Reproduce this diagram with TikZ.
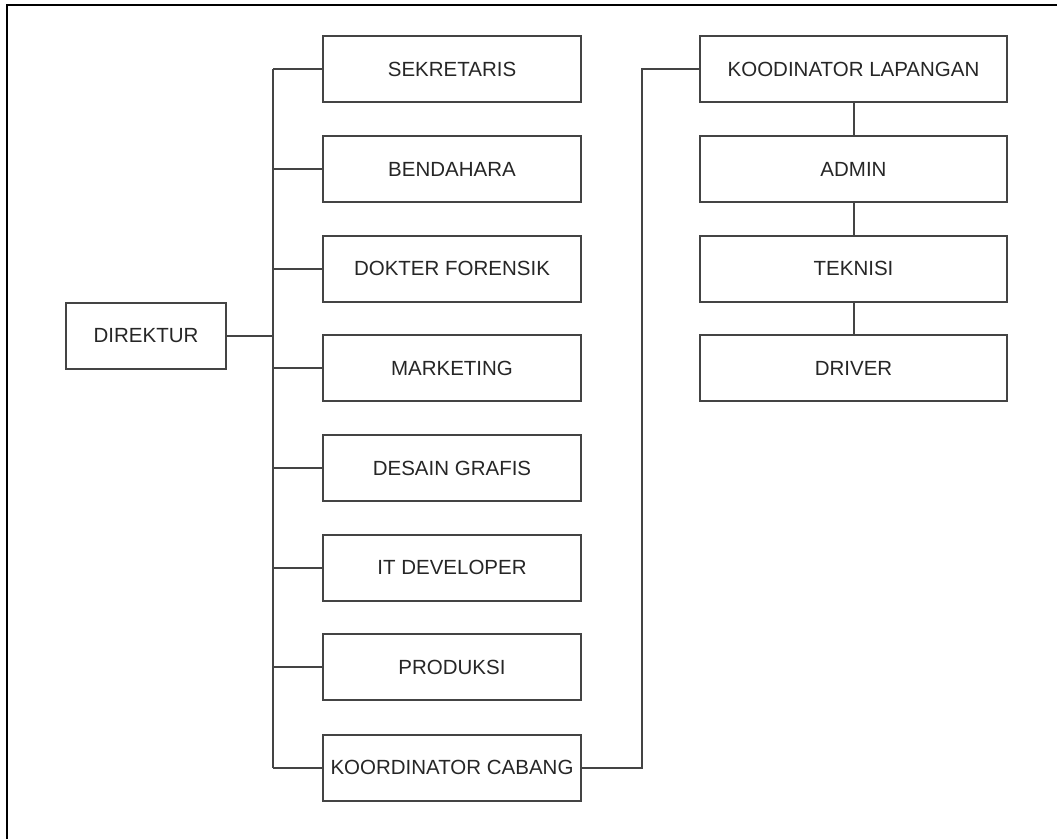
\documentclass[tikz,border=0pt]{standalone}
\usepackage{fontspec}
\setmainfont{Liberation Sans}
\definecolor{linecol}{HTML}{444444}
\definecolor{txtcol}{HTML}{262626}
\begin{document}
\begin{tikzpicture}[x=1pt,y=-1pt,
  box/.style={draw=linecol, line width=2pt, rectangle, minimum height=66pt, inner sep=0pt,
    text=txtcol, font=\fontsize{20.5}{24}\selectfont},
  lbox/.style={box, minimum width=258pt},
  rbox/.style={box, minimum width=307pt},
  conn/.style={draw=linecol, line width=2pt},
  frame/.style={draw=black, line width=2.8pt}]
\useasboundingbox (0,0) rectangle (1057,839);
% outer frame (top and left edges visible)
\coordinate (fa) at (7,5);
\coordinate (fb) at (1057,5);
\coordinate (fc) at (7,839);
\draw[frame] (fc) -- (fa) -- (fb);
% nodes
\node[box, minimum width=160pt] (dir) at (146,335.7) {DIREKTUR};
\node[lbox] (sek) at (452,69.2) {SEKRETARIS};
\node[lbox] (ben) at (452,169) {BENDAHARA};
\node[lbox] (dok) at (452,268.6) {DOKTER FORENSIK};
\node[lbox] (mar) at (452,368.3) {MARKETING};
\node[lbox] (des) at (452,468) {DESAIN GRAFIS};
\node[lbox] (itd) at (452,567.7) {IT DEVELOPER};
\node[lbox] (pro) at (452,667.4) {PRODUKSI};
\node[lbox] (kc) at (452,767.5) {KOORDINATOR CABANG};
\node[rbox] (kl) at (853.5,69) {KOODINATOR LAPANGAN};
\node[rbox] (adm) at (853.5,169.3) {ADMIN};
\node[rbox] (tek) at (853.5,268.7) {TEKNISI};
\node[rbox] (drv) at (853.5,368.4) {DRIVER};
% connector guides
\coordinate (tt) at (273.3,0);
\coordinate (jx) at (641.7,0);
% trunk
\draw[conn] (sek.west -| tt) -- (kc.west -| tt);
\draw[conn] (dir.east) -- (dir.east -| tt);
\foreach \n in {sek,ben,dok,mar,des,itd,pro,kc}
  \draw[conn] (\n.west -| tt) -- (\n.west);
% koordinator cabang to koordinator lapangan
\draw[conn] (kc.east) -- (kc.east -| jx) -- (kl.west -| jx) -- (kl.west);
% right column chain
\draw[conn] (kl.south) -- (adm.north);
\draw[conn] (adm.south) -- (tek.north);
\draw[conn] (tek.south) -- (drv.north);
\end{tikzpicture}
\end{document}
